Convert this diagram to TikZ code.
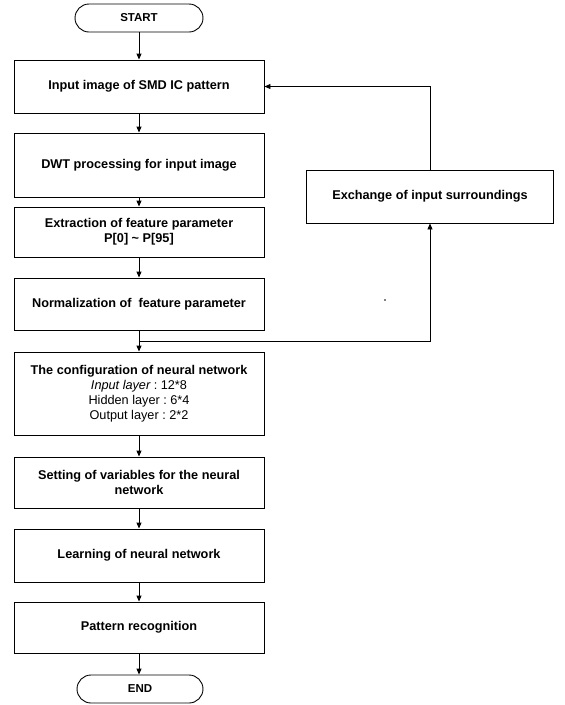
\documentclass[tikz,border=0pt]{standalone}
\usepackage{fontspec}
\setmainfont{Liberation Sans}
\usetikzlibrary{arrows.meta}
\frenchspacing
\begin{document}
\begin{tikzpicture}[x=1pt,y=-1pt,
  box/.style={draw,line width=0.9pt,minimum width=250pt,align=center,inner sep=0pt,
    font=\fontsize{12.7}{15}\selectfont\bfseries},
  term/.style={draw,line width=0.9pt,rounded corners=14pt,minimum height=28pt,inner sep=0pt,
    font=\fontsize{11.5}{13}\selectfont\bfseries},
  arr/.style={line width=0.9pt,-{Triangle[length=6pt,width=5pt]}}]
\useasboundingbox (0,0) rectangle (565,705);
\node[term,minimum width=128pt] (start) at (139,18) {START};
\node[box,minimum height=53pt] (b1) at (139,86.5) {Input image of SMD IC pattern};
\node[box,minimum height=64pt] (b2) at (139,165) {DWT processing for input image};
\node[box,minimum height=50pt] (b3) at (139,232) {Extraction of feature parameter\\P[0] \textasciitilde\ P[95]};
\node[box,minimum height=52pt] (b4) at (139,304) {Normalization of \ feature parameter};
\node[box,minimum height=83pt] (b5) at (139,393.5) {The configuration of neural network\\{\mdseries\itshape Input layer} {\mdseries : 12*8}\\{\mdseries Hidden layer : 6*4}\\{\mdseries Output layer : 2*2}};
\node[box,minimum height=51pt] (b6) at (139,482.5) {Setting of variables for the neural\\network};
\node[box,minimum height=53pt] (b7) at (139,555.5) {Learning of neural network};
\node[box,minimum height=51pt] (b8) at (139,627.5) {Pattern recognition};
\node[term,minimum width=126pt] (end) at (140,689) {END};
\node[box,minimum width=247pt,minimum height=53pt] (ex) at (430,196.5) {Exchange of input surroundings};
\coordinate (j) at (139,341);
\draw[arr] (start) -- (b1);
\draw[arr] (b1) -- (b2);
\draw[arr] (b2) -- (b3);
\draw[arr] (b3) -- (b4);
\draw[arr] (b4) -- (b5);
\draw[arr] (b5) -- (b6);
\draw[arr] (b6) -- (b7);
\draw[arr] (b7) -- (b8);
\draw[arr] (b8.south) -- (b8.south |- end.north);
\draw[arr] (j) -| (ex.south);
\draw[arr] (ex.north) |- (b1.east);
\fill (385,300) circle (0.9pt);
\end{tikzpicture}
\end{document}
